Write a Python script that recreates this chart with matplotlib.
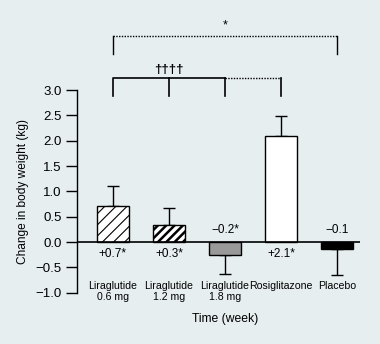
import numpy as np
import matplotlib.pyplot as plt

plt.rcParams['font.family'] = ['Liberation Sans', 'DejaVu Sans']

groups = ['Liraglutide\n0.6 mg', 'Liraglutide\n1.2 mg', 'Liraglutide\n1.8 mg', 'Rosiglitazone', 'Placebo']
means = [0.72, 0.33, -0.25, 2.09, -0.13]
errs = [0.38, 0.35, 0.38, 0.40, 0.52]
change_labels = ['+0.7*', '+0.3*', '\u22120.2*', '+2.1*', '\u22120.1']
yticks = [3.0, 2.5, 2.0, 1.5, 1.0, 0.5, 0.0, -0.5, -1.0]

bg = '#e6eef0'
fills = ['white', 'white', '#999999', 'white', 'black']
hatches = ['///', '////', None, None, None]

fig = plt.figure(figsize=(3.8, 3.44), dpi=100, facecolor=bg)
ax = fig.add_axes([0.2026, 0.149, 0.745, 0.589])
ax.set_facecolor(bg)

x = np.arange(len(groups))
bars = ax.bar(x, means, width=0.57, color=fills, edgecolor='black', linewidth=1.0, zorder=2)
for b, h in zip(bars, hatches):
    if h:
        b.set_hatch(h)
if hasattr(bars[1], 'set_hatch_linewidth'):
    bars[0].set_hatch_linewidth(0.8)
    bars[1].set_hatch_linewidth(1.8)

for i, (m, e) in enumerate(zip(means, errs)):
    lower = [0] if m > 0 else [e]
    upper = [e] if m > 0 else [0]
    ax.errorbar(x[i], m, yerr=[lower, upper], fmt='none', ecolor='black',
                elinewidth=1.0, capsize=4, capthick=1.0, zorder=1)

ax.axhline(0, color='black', lw=1.2, zorder=3)

for i, (m, t) in enumerate(zip(means, change_labels)):
    if m > 0:
        ax.text(x[i], -0.12, t, ha='center', va='top', fontsize=8.5)
    else:
        ax.text(x[i], 0.12, t, ha='center', va='bottom', fontsize=8.5)

# category labels sit inside the plot, above the bottom of the y range
for i, g in enumerate(groups):
    ax.text(x[i], -0.76, g, ha='center', va='top', fontsize=7.6, linespacing=1.15)
ax.text(x[2], -1.51, 'Time (week)', ha='center', va='center',
        fontsize=8.7, clip_on=False)

ax.set_xlim(-0.64, 4.41)
ax.set_ylim(-1.0, 3.0)
ax.set_yticks(yticks)
ax.set_yticklabels([f'{v:.1f}'.replace('-', '\u2212') for v in yticks], fontsize=9.5)
ax.tick_params(axis='y', length=8, width=1.0, direction='out', pad=3)
ax.set_xticks([])
for s in ['top', 'right', 'bottom']:
    ax.spines[s].set_visible(False)
ax.spines['left'].set_linewidth(1.0)
ax.set_ylabel('Change in body weight (kg)', fontsize=8.6, labelpad=5)

# significance brackets
dot = (0, (1, 1))
ax.plot([x[0], x[4]], [4.07, 4.07], color='black', lw=1.0, ls=dot, clip_on=False)
ax.plot([x[0], x[0]], [3.72, 4.07], color='black', lw=1.0, clip_on=False)
ax.plot([x[4], x[4]], [3.72, 4.07], color='black', lw=1.0, clip_on=False)
ax.text((x[0] + x[4]) / 2, 4.16, '*', ha='center', va='bottom', fontsize=9, clip_on=False)

ax.plot([x[0], x[0], x[2]], [2.89, 3.23, 3.23], color='black', lw=1.2, clip_on=False)
ax.plot([x[1], x[1]], [2.89, 3.23], color='black', lw=1.2, clip_on=False)
ax.plot([x[2], x[2]], [2.89, 3.23], color='black', lw=1.2, clip_on=False)
ax.plot([x[2], x[3]], [3.23, 3.23], color='black', lw=1.0, ls=dot, clip_on=False)
ax.plot([x[3], x[3]], [2.89, 3.23], color='black', lw=1.2, clip_on=False)
ax.text(x[1], 3.28, '\u2020\u2020\u2020\u2020', ha='center', va='bottom', fontsize=9.5,
        fontweight='bold', clip_on=False)

fig.savefig('out.png', dpi=100, facecolor=bg)
